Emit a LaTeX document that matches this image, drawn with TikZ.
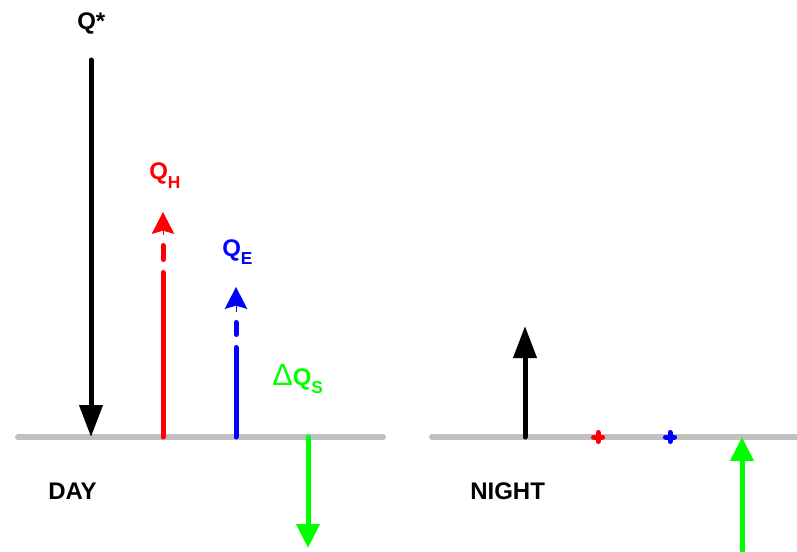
\documentclass[tikz,border=0pt]{standalone}
\usepackage{fontspec}
\setmainfont{Liberation Sans}
\usetikzlibrary{arrows.meta}
\definecolor{cGround}{HTML}{C0C0C0}
\definecolor{cNet}{HTML}{000000}
\definecolor{cSens}{HTML}{FF0000}
\definecolor{cLat}{HTML}{0000FF}
\definecolor{cStore}{HTML}{00FF00}
\tikzset{
    ground/.style ={line width=4.5pt, line cap=round, cGround},
    flux/.style   ={line width=3.75pt, line cap=round},
    net/.style    ={flux, cNet, -{Triangle[length=24pt, width=17pt]}},
    sens/.style   ={flux, cSens},
    lat/.style    ={flux, cLat},
    turb/.style   ={-{Stealth[length=16.5pt, width=17pt, inset=2.5pt]}},
    store/.style  ={flux, cStore, -{Triangle[length=18pt, width=17pt]}},
    zero/.style   ={line width=3.75pt, line cap=round},
    lbl/.style    ={font=\bfseries\fontsize{18}{21}\selectfont, inner sep=0pt,
                    anchor=base west},
}
\newcommand{\fluxlbl}[2]{#1\raisebox{-6pt}{\fontsize{13}{15}\selectfont #2}}

\begin{document}
\begin{tikzpicture}[x=0.75pt, y=0.75pt]
\useasboundingbox (0,0) rectangle (797,551);

% ===================== Dia =====================
\coordinate (dl) at (18,114);
\coordinate (dr) at (383,114);
\draw[ground] (dl) -- (dr);

\coordinate (qs0) at (91,491);
\coordinate (qs1) at (91,114);
\draw[net] (qs0) -- (qs1);
\node[lbl] (lqs) at (77,521) {Q*};

% sensible: solido, un trazo y la punta
\coordinate (qh0) at (163,114);
\coordinate (qh1) at (163,278.5);
\coordinate (qh2) at (163,291.5);
\coordinate (qh3) at (163,305.5);
\coordinate (qh4) at (163,316);
\coordinate (qh5) at (163,339);
\draw[sens] (qh0) -- (qh1);
\draw[sens] (qh2) -- (qh3);
\draw[sens, turb, line width=0pt] (qh4) -- (qh5);
\node[lbl, text=cSens] (lqh) at (149,371) {\fluxlbl{Q}{H}};

% latente
\coordinate (qe0) at (236,114);
\coordinate (qe1) at (236,203.5);
\coordinate (qe2) at (236,216.5);
\coordinate (qe3) at (236,228.5);
\coordinate (qe4) at (236,240);
\coordinate (qe5) at (236,264);
\draw[lat] (qe0) -- (qe1);
\draw[lat] (qe2) -- (qe3);
\draw[lat, turb, line width=0pt] (qe4) -- (qe5);
\node[lbl, text=cLat] (lqe) at (222,295) {\fluxlbl{Q}{E}};

% almacenamiento
\coordinate (dq0) at (308,114);
\coordinate (dq1) at (308,3);
\draw[store] (dq0) -- (dq1);
\node[lbl, text=cStore] (ldq) at (272,166)
     {{\mdseries\fontsize{23}{24}\selectfont\char"0394}\fluxlbl{Q}{S}};

\node[lbl] (lday) at (48,52) {DAY};

% ===================== Noche =====================
\coordinate (nl) at (432,114);
\coordinate (nr) at (805,114);
\draw[ground] (nl) -- (nr);

\coordinate (nq0) at (525,114);
\coordinate (nq1) at (525,225);
\draw[net] (nq0) -- (nq1);

\coordinate (nh) at (598,114);
\draw[zero, cSens] ([xshift=-3.4pt]nh) -- ([xshift=3.4pt]nh)
                   ([yshift=-3.4pt]nh) -- ([yshift=3.4pt]nh);
\coordinate (ne) at (670,114);
\draw[zero, cLat]  ([xshift=-3.4pt]ne) -- ([xshift=3.4pt]ne)
                   ([yshift=-3.4pt]ne) -- ([yshift=3.4pt]ne);

\coordinate (ns0) at (742,-4);
\coordinate (ns1) at (742,114);
\draw[store] (ns0) -- (ns1);

\node[lbl] (lnight) at (470,52) {NIGHT};

\end{tikzpicture}
\end{document}
